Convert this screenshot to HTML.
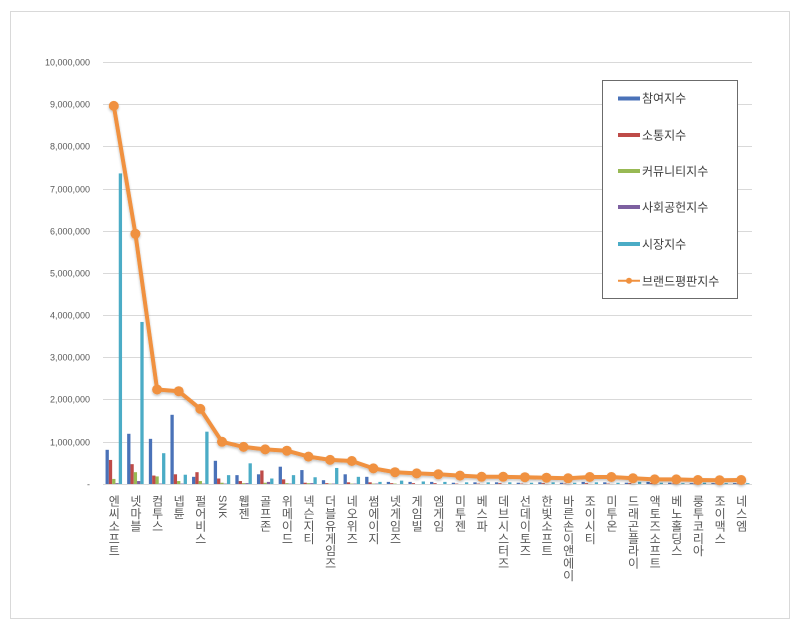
<!DOCTYPE html>
<html><head><meta charset="utf-8">
<style>
html,body{margin:0;padding:0;background:#fff;}
#wrap{position:relative;width:800px;height:627px;overflow:hidden;background:#fff;font-family:"Liberation Sans","Noto Sans CJK KR",sans-serif;}
svg{position:absolute;left:0;top:0;}
.xl{position:absolute;top:495px;width:12px;line-height:12px;font-size:12px;color:#595959;writing-mode:vertical-rl;text-orientation:mixed;letter-spacing:0.4px;font-family:"Liberation Sans","Noto Sans CJK KR",sans-serif;white-space:nowrap;}
</style></head>
<body><div id="wrap">
<svg width="800" height="627" viewBox="0 0 800 627" xmlns="http://www.w3.org/2000/svg">
<defs>
<filter id="sh" x="-5%" y="-5%" width="110%" height="110%"><feGaussianBlur in="SourceAlpha" stdDeviation="1.2"/><feOffset dx="0" dy="1.5"/><feComponentTransfer><feFuncA type="linear" slope="0.25"/></feComponentTransfer><feMerge><feMergeNode/><feMergeNode in="SourceGraphic"/></feMerge></filter>
</defs>
<rect x="10.5" y="11.5" width="779" height="607" fill="#fff" stroke="#d9d9d9" stroke-width="1"/>
<g stroke="#d9d9d9" stroke-width="1">
<line x1="103" y1="62.5" x2="752" y2="62.5"/>
<line x1="103" y1="104.5" x2="752" y2="104.5"/>
<line x1="103" y1="146.5" x2="752" y2="146.5"/>
<line x1="103" y1="189.5" x2="752" y2="189.5"/>
<line x1="103" y1="231.5" x2="752" y2="231.5"/>
<line x1="103" y1="273.5" x2="752" y2="273.5"/>
<line x1="103" y1="315.5" x2="752" y2="315.5"/>
<line x1="103" y1="357.5" x2="752" y2="357.5"/>
<line x1="103" y1="399.5" x2="752" y2="399.5"/>
<line x1="103" y1="442.5" x2="752" y2="442.5"/>
<line x1="103" y1="484.5" x2="752" y2="484.5"/>
</g>
<g font-family="Liberation Sans, sans-serif" font-size="9" fill="#595959" text-anchor="end">
<text x="90" y="65.5">10,000,000</text>
<text x="90" y="107.5">9,000,000</text>
<text x="90" y="149.5">8,000,000</text>
<text x="90" y="192.5">7,000,000</text>
<text x="90" y="234.5">6,000,000</text>
<text x="90" y="276.5">5,000,000</text>
<text x="90" y="318.5">4,000,000</text>
<text x="90" y="360.5">3,000,000</text>
<text x="90" y="402.5">2,000,000</text>
<text x="90" y="445.5">1,000,000</text>
<text x="90" y="487.5">-</text>
</g>
<!-- bars: per category group, flipped scale -->
<g id="bars">
<g transform="translate(113.8,484) scale(1,-42.2)"><rect x="-8.25" y="0" width="3.3" height="0.81" fill="#4A72B8"/><rect x="-4.95" y="0" width="3.3" height="0.57" fill="#BE4B48"/><rect x="-1.65" y="0" width="3.3" height="0.12" fill="#98B954"/><rect x="1.65" y="0" width="3.3" height="0.02" fill="#7D60A0"/><rect x="4.95" y="0" width="3.3" height="7.36" fill="#4BACC6"/></g>
<g transform="translate(135.4,484) scale(1,-42.2)"><rect x="-8.25" y="0" width="3.3" height="1.19" fill="#4A72B8"/><rect x="-4.95" y="0" width="3.3" height="0.47" fill="#BE4B48"/><rect x="-1.65" y="0" width="3.3" height="0.28" fill="#98B954"/><rect x="1.65" y="0" width="3.3" height="0.07" fill="#7D60A0"/><rect x="4.95" y="0" width="3.3" height="3.84" fill="#4BACC6"/></g>
<g transform="translate(157.1,484) scale(1,-42.2)"><rect x="-8.25" y="0" width="3.3" height="1.07" fill="#4A72B8"/><rect x="-4.95" y="0" width="3.3" height="0.2" fill="#BE4B48"/><rect x="-1.65" y="0" width="3.3" height="0.18" fill="#98B954"/><rect x="1.65" y="0" width="3.3" height="0.01" fill="#7D60A0"/><rect x="4.95" y="0" width="3.3" height="0.73" fill="#4BACC6"/></g>
<g transform="translate(178.7,484) scale(1,-42.2)"><rect x="-8.25" y="0" width="3.3" height="1.64" fill="#4A72B8"/><rect x="-4.95" y="0" width="3.3" height="0.23" fill="#BE4B48"/><rect x="-1.65" y="0" width="3.3" height="0.07" fill="#98B954"/><rect x="1.65" y="0" width="3.3" height="0.01" fill="#7D60A0"/><rect x="4.95" y="0" width="3.3" height="0.22" fill="#4BACC6"/></g>
<g transform="translate(200.3,484) scale(1,-42.2)"><rect x="-8.25" y="0" width="3.3" height="0.17" fill="#4A72B8"/><rect x="-4.95" y="0" width="3.3" height="0.28" fill="#BE4B48"/><rect x="-1.65" y="0" width="3.3" height="0.07" fill="#98B954"/><rect x="1.65" y="0" width="3.3" height="0.01" fill="#7D60A0"/><rect x="4.95" y="0" width="3.3" height="1.24" fill="#4BACC6"/></g>
<g transform="translate(222.0,484) scale(1,-42.2)"><rect x="-8.25" y="0" width="3.3" height="0.55" fill="#4A72B8"/><rect x="-4.95" y="0" width="3.3" height="0.13" fill="#BE4B48"/><rect x="-1.65" y="0" width="3.3" height="0.03" fill="#98B954"/><rect x="1.65" y="0" width="3.3" height="0.01" fill="#7D60A0"/><rect x="4.95" y="0" width="3.3" height="0.21" fill="#4BACC6"/></g>
<g transform="translate(243.6,484) scale(1,-42.2)"><rect x="-8.25" y="0" width="3.3" height="0.21" fill="#4A72B8"/><rect x="-4.95" y="0" width="3.3" height="0.07" fill="#BE4B48"/><rect x="-1.65" y="0" width="3.3" height="0.02" fill="#98B954"/><rect x="1.65" y="0" width="3.3" height="0.02" fill="#7D60A0"/><rect x="4.95" y="0" width="3.3" height="0.49" fill="#4BACC6"/></g>
<g transform="translate(265.2,484) scale(1,-42.2)"><rect x="-8.25" y="0" width="3.3" height="0.23" fill="#4A72B8"/><rect x="-4.95" y="0" width="3.3" height="0.32" fill="#BE4B48"/><rect x="-1.65" y="0" width="3.3" height="0.03" fill="#98B954"/><rect x="1.65" y="0" width="3.3" height="0.05" fill="#7D60A0"/><rect x="4.95" y="0" width="3.3" height="0.13" fill="#4BACC6"/></g>
<g transform="translate(286.9,484) scale(1,-42.2)"><rect x="-8.25" y="0" width="3.3" height="0.41" fill="#4A72B8"/><rect x="-4.95" y="0" width="3.3" height="0.11" fill="#BE4B48"/><rect x="-1.65" y="0" width="3.3" height="0.02" fill="#98B954"/><rect x="1.65" y="0" width="3.3" height="0.01" fill="#7D60A0"/><rect x="4.95" y="0" width="3.3" height="0.21" fill="#4BACC6"/></g>
<g transform="translate(308.5,484) scale(1,-42.2)"><rect x="-8.25" y="0" width="3.3" height="0.33" fill="#4A72B8"/><rect x="-4.95" y="0" width="3.3" height="0.03" fill="#BE4B48"/><rect x="-1.65" y="0" width="3.3" height="0.02" fill="#98B954"/><rect x="1.65" y="0" width="3.3" height="0.02" fill="#7D60A0"/><rect x="4.95" y="0" width="3.3" height="0.16" fill="#4BACC6"/></g>
<g transform="translate(330.1,484) scale(1,-42.2)"><rect x="-8.25" y="0" width="3.3" height="0.09" fill="#4A72B8"/><rect x="-4.95" y="0" width="3.3" height="0.02" fill="#BE4B48"/><rect x="-1.65" y="0" width="3.3" height="0.01" fill="#98B954"/><rect x="1.65" y="0" width="3.3" height="0.01" fill="#7D60A0"/><rect x="4.95" y="0" width="3.3" height="0.38" fill="#4BACC6"/></g>
<g transform="translate(351.8,484) scale(1,-42.2)"><rect x="-8.25" y="0" width="3.3" height="0.23" fill="#4A72B8"/><rect x="-4.95" y="0" width="3.3" height="0.04" fill="#BE4B48"/><rect x="-1.65" y="0" width="3.3" height="0.01" fill="#98B954"/><rect x="1.65" y="0" width="3.3" height="0.01" fill="#7D60A0"/><rect x="4.95" y="0" width="3.3" height="0.17" fill="#4BACC6"/></g>
<g transform="translate(373.4,484) scale(1,-42.2)"><rect x="-8.25" y="0" width="3.3" height="0.17" fill="#4A72B8"/><rect x="-4.95" y="0" width="3.3" height="0.04" fill="#BE4B48"/><rect x="-1.65" y="0" width="3.3" height="0.01" fill="#98B954"/><rect x="1.65" y="0" width="3.3" height="0.01" fill="#7D60A0"/><rect x="4.95" y="0" width="3.3" height="0.05" fill="#4BACC6"/></g>
<g transform="translate(395.0,484) scale(1,-42.2)"><rect x="-8.25" y="0" width="3.3" height="0.05" fill="#4A72B8"/><rect x="-4.95" y="0" width="3.3" height="0.02" fill="#BE4B48"/><rect x="-1.65" y="0" width="3.3" height="0.01" fill="#98B954"/><rect x="4.95" y="0" width="3.3" height="0.08" fill="#4BACC6"/></g>
<g transform="translate(416.7,484) scale(1,-42.2)"><rect x="-8.25" y="0" width="3.3" height="0.05" fill="#4A72B8"/><rect x="-4.95" y="0" width="3.3" height="0.02" fill="#BE4B48"/><rect x="4.95" y="0" width="3.3" height="0.06" fill="#4BACC6"/></g>
<g transform="translate(438.3,484) scale(1,-42.2)"><rect x="-8.25" y="0" width="3.3" height="0.05" fill="#4A72B8"/><rect x="-4.95" y="0" width="3.3" height="0.02" fill="#BE4B48"/><rect x="4.95" y="0" width="3.3" height="0.05" fill="#4BACC6"/></g>
<g transform="translate(460.0,484) scale(1,-42.2)"><rect x="-8.25" y="0" width="3.3" height="0.03" fill="#4A72B8"/><rect x="-4.95" y="0" width="3.3" height="0.01" fill="#BE4B48"/><rect x="4.95" y="0" width="3.3" height="0.04" fill="#4BACC6"/></g>
<g transform="translate(481.6,484) scale(1,-42.2)"><rect x="-8.25" y="0" width="3.3" height="0.04" fill="#4A72B8"/><rect x="-4.95" y="0" width="3.3" height="0.01" fill="#BE4B48"/><rect x="4.95" y="0" width="3.3" height="0.04" fill="#4BACC6"/></g>
<g transform="translate(503.2,484) scale(1,-42.2)"><rect x="-8.25" y="0" width="3.3" height="0.04" fill="#4A72B8"/><rect x="-4.95" y="0" width="3.3" height="0.02" fill="#BE4B48"/><rect x="4.95" y="0" width="3.3" height="0.04" fill="#4BACC6"/></g>
<g transform="translate(524.9,484) scale(1,-42.2)"><rect x="-8.25" y="0" width="3.3" height="0.03" fill="#4A72B8"/><rect x="-4.95" y="0" width="3.3" height="0.01" fill="#BE4B48"/><rect x="4.95" y="0" width="3.3" height="0.03" fill="#4BACC6"/></g>
<g transform="translate(546.5,484) scale(1,-42.2)"><rect x="-8.25" y="0" width="3.3" height="0.04" fill="#4A72B8"/><rect x="-4.95" y="0" width="3.3" height="0.02" fill="#BE4B48"/><rect x="4.95" y="0" width="3.3" height="0.04" fill="#4BACC6"/></g>
<g transform="translate(568.1,484) scale(1,-42.2)"><rect x="-8.25" y="0" width="3.3" height="0.03" fill="#4A72B8"/><rect x="-4.95" y="0" width="3.3" height="0.01" fill="#BE4B48"/><rect x="4.95" y="0" width="3.3" height="0.03" fill="#4BACC6"/></g>
<g transform="translate(589.8,484) scale(1,-42.2)"><rect x="-8.25" y="0" width="3.3" height="0.05" fill="#4A72B8"/><rect x="-4.95" y="0" width="3.3" height="0.02" fill="#BE4B48"/><rect x="4.95" y="0" width="3.3" height="0.04" fill="#4BACC6"/></g>
<g transform="translate(611.4,484) scale(1,-42.2)"><rect x="-8.25" y="0" width="3.3" height="0.04" fill="#4A72B8"/><rect x="-4.95" y="0" width="3.3" height="0.01" fill="#BE4B48"/><rect x="4.95" y="0" width="3.3" height="0.03" fill="#4BACC6"/></g>
<g transform="translate(633.0,484) scale(1,-42.2)"><rect x="-8.25" y="0" width="3.3" height="0.03" fill="#4A72B8"/><rect x="-4.95" y="0" width="3.3" height="0.02" fill="#BE4B48"/><rect x="4.95" y="0" width="3.3" height="0.05" fill="#4BACC6"/></g>
<g transform="translate(654.7,484) scale(1,-42.2)"><rect x="-8.25" y="0" width="3.3" height="0.05" fill="#4A72B8"/><rect x="-4.95" y="0" width="3.3" height="0.02" fill="#BE4B48"/><rect x="4.95" y="0" width="3.3" height="0.03" fill="#4BACC6"/></g>
<g transform="translate(676.3,484) scale(1,-42.2)"><rect x="-8.25" y="0" width="3.3" height="0.03" fill="#4A72B8"/><rect x="-4.95" y="0" width="3.3" height="0.01" fill="#BE4B48"/><rect x="4.95" y="0" width="3.3" height="0.02" fill="#4BACC6"/></g>
<g transform="translate(697.9,484) scale(1,-42.2)"><rect x="-8.25" y="0" width="3.3" height="0.02" fill="#4A72B8"/><rect x="-4.95" y="0" width="3.3" height="0.01" fill="#BE4B48"/><rect x="4.95" y="0" width="3.3" height="0.03" fill="#4BACC6"/></g>
<g transform="translate(719.6,484) scale(1,-42.2)"><rect x="-8.25" y="0" width="3.3" height="0.02" fill="#4A72B8"/><rect x="-4.95" y="0" width="3.3" height="0.01" fill="#BE4B48"/><rect x="4.95" y="0" width="3.3" height="0.02" fill="#4BACC6"/></g>
<g transform="translate(741.2,484) scale(1,-42.2)"><rect x="-8.25" y="0" width="3.3" height="0.02" fill="#4A72B8"/><rect x="-4.95" y="0" width="3.3" height="0.01" fill="#BE4B48"/><rect x="4.95" y="0" width="3.3" height="0.02" fill="#4BACC6"/></g>
</g>
<!-- line -->
<g filter="url(#sh)">
<polyline fill="none" stroke="#F0913F" stroke-width="4" stroke-linejoin="round" stroke-linecap="round"
points="113.8,105.9 135.4,233.8 157.1,389.5 178.7,391.2 200.3,408.9 222.0,441.8 243.6,446.9 265.2,449.4 286.9,450.7 308.5,456.6 330.1,459.9 351.8,461 373.4,468.4 395.0,472.2 416.7,473.4 438.3,474.3 460.0,475.6 481.6,476.8 503.2,476.8 524.9,477.2 546.5,477.7 568.1,478.3 589.8,477 611.4,477 633.0,478.3 654.7,479.4 676.3,479.4 697.9,480 719.6,480.3 741.2,480"/>
<g fill="#F0913F">
<circle cx="113.8" cy="105.9" r="5"/><circle cx="135.4" cy="233.8" r="5"/><circle cx="157.1" cy="389.5" r="5"/><circle cx="178.7" cy="391.2" r="5"/><circle cx="200.3" cy="408.9" r="5"/><circle cx="222.0" cy="441.8" r="5"/><circle cx="243.6" cy="446.9" r="5"/><circle cx="265.2" cy="449.4" r="5"/><circle cx="286.9" cy="450.7" r="5"/><circle cx="308.5" cy="456.6" r="5"/><circle cx="330.1" cy="459.9" r="5"/><circle cx="351.8" cy="461" r="5"/><circle cx="373.4" cy="468.4" r="5"/><circle cx="395.0" cy="472.2" r="5"/><circle cx="416.7" cy="473.4" r="5"/><circle cx="438.3" cy="474.3" r="5"/><circle cx="460.0" cy="475.6" r="5"/><circle cx="481.6" cy="476.8" r="5"/><circle cx="503.2" cy="476.8" r="5"/><circle cx="524.9" cy="477.2" r="5"/><circle cx="546.5" cy="477.7" r="5"/><circle cx="568.1" cy="478.3" r="5"/><circle cx="589.8" cy="477" r="5"/><circle cx="611.4" cy="477" r="5"/><circle cx="633.0" cy="478.3" r="5"/><circle cx="654.7" cy="479.4" r="5"/><circle cx="676.3" cy="479.4" r="5"/><circle cx="697.9" cy="480" r="5"/><circle cx="719.6" cy="480.3" r="5"/><circle cx="741.2" cy="480" r="5"/>
</g>
</g>
<!-- legend -->
<rect x="602.5" y="80.5" width="135" height="218" fill="#fff" stroke="#6b6b6b" stroke-width="1"/>
<rect x="618" y="96.5" width="22" height="4" fill="#4A72B8"/>
<rect x="618" y="133" width="22" height="4" fill="#BE4B48"/>
<rect x="618" y="169" width="22" height="4" fill="#98B954"/>
<rect x="618" y="205" width="22" height="4" fill="#7D60A0"/>
<rect x="618" y="242" width="22" height="4" fill="#4BACC6"/>
<line x1="618" y1="280.7" x2="640" y2="280.7" stroke="#F0913F" stroke-width="2"/>
<circle cx="629" cy="280.7" r="3" fill="#F0913F"/>
<g font-family="Liberation Sans, Noto Sans CJK KR, sans-serif" font-size="12" fill="#404040">
<text x="642" y="102.5">참여지수</text>
<text x="642" y="139.5">소통지수</text>
<text x="642" y="175.5">커뮤니티지수</text>
<text x="642" y="211.5">사회공헌지수</text>
<text x="642" y="248.5">시장지수</text>
<text x="642" y="285.5">브랜드평판지수</text>
</g>
</svg>
<div class="xl" style="left:107.8px">엔씨소프트</div>
<div class="xl" style="left:129.4px">넷마블</div>
<div class="xl" style="left:151.1px">컴투스</div>
<div class="xl" style="left:172.7px">넵튠</div>
<div class="xl" style="left:194.3px">펄어비스</div>
<div class="xl" style="left:216.0px;font-size:11px">SNK</div>
<div class="xl" style="left:237.6px">웹젠</div>
<div class="xl" style="left:259.2px">골프존</div>
<div class="xl" style="left:280.9px">위메이드</div>
<div class="xl" style="left:302.5px">넥슨지티</div>
<div class="xl" style="left:324.1px">더블유게임즈</div>
<div class="xl" style="left:345.8px">네오위즈</div>
<div class="xl" style="left:367.4px">썸에이지</div>
<div class="xl" style="left:389.0px">넷게임즈</div>
<div class="xl" style="left:410.7px">게임빌</div>
<div class="xl" style="left:432.3px">엠게임</div>
<div class="xl" style="left:454.0px">미투젠</div>
<div class="xl" style="left:475.6px">베스파</div>
<div class="xl" style="left:497.2px">데브시스터즈</div>
<div class="xl" style="left:518.9px">선데이토즈</div>
<div class="xl" style="left:540.5px">한빛소프트</div>
<div class="xl" style="left:562.1px">바른손이앤에이</div>
<div class="xl" style="left:583.8px">조이시티</div>
<div class="xl" style="left:605.4px">미투온</div>
<div class="xl" style="left:627.0px">드래곤플라이</div>
<div class="xl" style="left:648.7px">액토즈소프트</div>
<div class="xl" style="left:670.3px">베노홀딩스</div>
<div class="xl" style="left:691.9px">룽투코리아</div>
<div class="xl" style="left:713.6px">조이맥스</div>
<div class="xl" style="left:735.2px">네스엠</div>
</div>
</body></html>
